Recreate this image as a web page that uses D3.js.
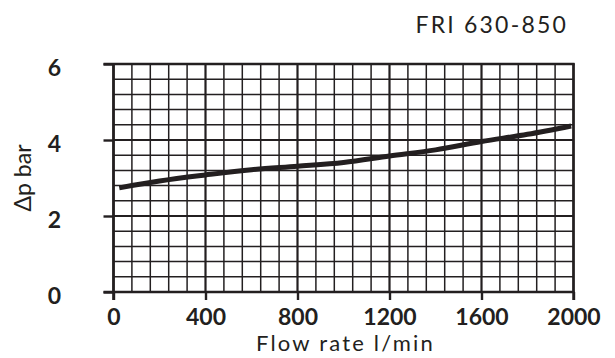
<!DOCTYPE html>
<html>
<head>
<meta charset="utf-8">
<script src="https://cdn.jsdelivr.net/npm/d3@7"></script>
<style>
  body { margin: 0; background: #fff; }
  text { font-family: Lato, sans-serif; fill: #231f20; }
</style>
</head>
<body>
<div id="chart"></div>
<script>
// data
const flow = [25, 200, 400, 600, 800, 1000, 1200, 1400, 1600, 1800, 1990];
const dp   = [2.74, 2.92, 3.08, 3.22, 3.31, 3.41, 3.58, 3.74, 3.96, 4.15, 4.37];
const xTicks = [0, 400, 800, 1200, 1600, 2000];
const yTicks = [0, 2, 4, 6];
const title = "FRI 630-850";
const xTitle = "Flow rate l/min";
const yTitle = "\u0394p bar";

let W = 615, H = 358;
let margin = {top: 64, right: 41.5, bottom: 66, left: 113.5};
let width = W - margin.left - margin.right;
let height = H - margin.top - margin.bottom;
let ink = "#231f20";

let svg = d3.select("#chart")
  .append("svg")
    .attr("width", W)
    .attr("height", H);

let g = svg.append("g")
    .attr("transform", "translate(" + margin.left + "," + margin.top + ")");

let x = d3.scaleLinear().domain([0, 2000]).range([0, width]);
let y = d3.scaleLinear().domain([0, 6]).range([height, 0]);

// grid: every 80 l/min and 0.4 bar, heavier on the labelled values
let xMinor = d3.range(0, 2001, 80);
let yMinor = d3.range(0, 15.01, 1).map(d => +(d * 0.4).toFixed(1));

g.selectAll(".vminor")
  .data(xMinor)
  .enter().append("line")
    .attr("x1", d => x(d)).attr("x2", d => x(d))
    .attr("y1", 0).attr("y2", height)
    .attr("stroke", ink)
    .attr("stroke-width", d => d % 400 == 0 ? 2.2 : 1.5);

g.selectAll(".hminor")
  .data(yMinor)
  .enter().append("line")
    .attr("x1", 0).attr("x2", width)
    .attr("y1", d => y(d)).attr("y2", d => y(d))
    .attr("stroke", ink)
    .attr("stroke-width", d => Math.abs(d % 2) < 0.01 ? 2.2 : 1.5);

// axes with outward ticks
let xAxis = g.append("g")
  .attr("transform", "translate(0," + height + ")")
  .call(d3.axisBottom(x).tickValues(xTicks).tickSize(8).tickPadding(8).tickFormat(d3.format("d")));
let yAxis = g.append("g")
  .call(d3.axisLeft(y).tickValues(yTicks).tickSize(10).tickPadding(49).tickFormat(d3.format("d")));

[xAxis, yAxis].forEach(a => {
  a.select(".domain").remove();
  a.selectAll(".tick line").attr("stroke", ink).attr("stroke-width", 2.4);
  a.selectAll("text")
    .style("font-size", "23px")
    .style("font-weight", "700")
    .attr("fill", ink);
});
yAxis.selectAll("text").attr("text-anchor", "middle").attr("dy", "0.48em");
xAxis.selectAll("text").attr("dy", "0.72em");

// frame: left and bottom axis lines, plus top and right
g.append("line").attr("x1", -10).attr("x2", width + 1).attr("y1", height).attr("y2", height)
  .attr("stroke", ink).attr("stroke-width", 2.6);
g.append("line").attr("x1", 0).attr("x2", 0).attr("y1", -1).attr("y2", height + 8)
  .attr("stroke", ink).attr("stroke-width", 2.6);
g.append("line").attr("x1", -10).attr("x2", width + 1).attr("y1", 0).attr("y2", 0)
  .attr("stroke", ink).attr("stroke-width", 2.6);
g.append("line").attr("x1", width).attr("x2", width).attr("y1", -1).attr("y2", height + 8)
  .attr("stroke", ink).attr("stroke-width", 2.4);

// curve
let pts = flow.map((f, i) => [f, dp[i]]);
g.append("path")
  .datum(pts)
  .attr("fill", "none")
  .attr("stroke", ink)
  .attr("stroke-width", 5)
  .attr("d", d3.line().curve(d3.curveMonotoneX)
    .x(d => x(d[0]))
    .y(d => y(d[1])));

// titles
svg.append("text")
  .attr("x", 568).attr("y", 33)
  .attr("text-anchor", "end")
  .style("font-size", "23px")
  .style("letter-spacing", "2.2px")
  .text(title);

svg.append("text")
  .attr("x", margin.left + width / 2 + 2).attr("y", 351)
  .attr("text-anchor", "middle")
  .style("font-size", "22px")
  .style("letter-spacing", "2.2px")
  .text(xTitle);

svg.append("text")
  .attr("transform", "translate(31," + (margin.top + height / 2) + ") rotate(-90)")
  .attr("text-anchor", "middle")
  .style("font-size", "23px")
  .text(yTitle);
</script>
</body>
</html>
